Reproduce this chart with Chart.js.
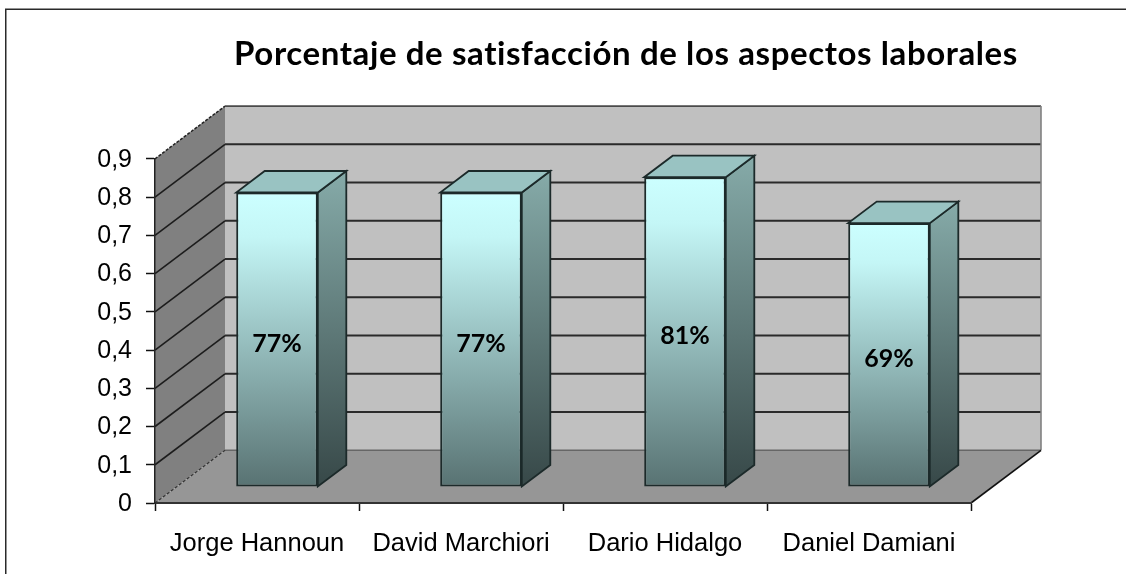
<!DOCTYPE html>
<html>
<head>
<meta charset="utf-8">
<style>html,body{margin:0;padding:0;background:#fff;overflow:hidden}canvas{display:block}</style>
<script src="https://cdn.jsdelivr.net/npm/chart.js@4/dist/chart.umd.js"></script>
</head>
<body>
<canvas id="c" width="1126" height="574"></canvas>
<script>
const titleText = "Porcentaje de satisfacción de los aspectos laborales";
const categories = ["Jorge Hannoun", "David Marchiori", "Dario Hidalgo", "Daniel Damiani"];
const satisfaction = [0.77, 0.77, 0.81, 0.69];
const yMax = 0.9;
const yStep = 0.1;

// oblique projection of the 3D box
const WALL = {dx: 70, dy: -52.7};
const BAR_SHIFT = {dx: 20, dy: -16};
const BAR_DEPTH = {dx: 28.5, dy: -21.5};

function poly(ctx, pts, fill, stroke, lw, dash) {
  ctx.beginPath();
  pts.forEach((p, i) => i ? ctx.lineTo(p[0], p[1]) : ctx.moveTo(p[0], p[1]));
  ctx.closePath();
  if (fill) { ctx.fillStyle = fill; ctx.fill(); }
  if (stroke) {
    ctx.strokeStyle = stroke; ctx.lineWidth = lw || 1;
    ctx.setLineDash(dash || []); ctx.stroke(); ctx.setLineDash([]);
  }
}
function line(ctx, x1, y1, x2, y2, color, lw, dash) {
  ctx.beginPath(); ctx.moveTo(x1, y1); ctx.lineTo(x2, y2);
  ctx.strokeStyle = color; ctx.lineWidth = lw; ctx.setLineDash(dash || []); ctx.stroke(); ctx.setLineDash([]);
}

const box3d = {
  id: 'box3d',
  afterLayout(chart) {
    const t = chart.titleBlock;
    t.left = 176; t.right = 1076;
    if (!t._spaced) {
      const orig = t.draw;
      t.draw = function () {
        this.ctx.letterSpacing = '0.6px';
        orig.apply(this, arguments);
        this.ctx.letterSpacing = '0px';
      };
      t._spaced = true;
    }
  },
  beforeDraw(chart) {
    const ctx = chart.ctx, a = chart.chartArea, y = chart.scales.y;
    ctx.save();
    ctx.fillStyle = '#fff'; ctx.fillRect(0, 0, chart.width, chart.height);
    ctx.strokeStyle = '#2a2a2a'; ctx.lineWidth = 1.5;
    ctx.strokeRect(5.75, 9.25, chart.width + 20, chart.height + 20);
    const L = a.left, R = a.right, T = y.getPixelForValue(yMax), B = y.getPixelForValue(0);
    const d = WALL;
    // back wall
    poly(ctx, [[L+d.dx,T+d.dy],[R+d.dx,T+d.dy],[R+d.dx,B+d.dy],[L+d.dx,B+d.dy]], '#C0C0C0');
    // side wall
    poly(ctx, [[L,T],[L+d.dx,T+d.dy],[L+d.dx,B+d.dy],[L,B]], '#808080');
    // floor
    poly(ctx, [[L,B],[R,B],[R+d.dx,B+d.dy],[L+d.dx,B+d.dy]], '#969696');
    // grid lines on walls
    y.ticks.forEach(tk => {
      const p = y.getPixelForValue(tk.value);
      if (tk.value > 0 && tk.value < yMax - 1e-9) {
        line(ctx, L, p, L+d.dx, p+d.dy, '#1c1c1c', 1.6);
        line(ctx, L+d.dx, p+d.dy, R+d.dx, p+d.dy, '#2a2a2a', 2);
      }
    });
    line(ctx, L, T, L+d.dx, T+d.dy, '#222', 1.5, [3, 1.5]);
    line(ctx, L+d.dx, T+d.dy, R+d.dx, T+d.dy, '#4a4a4a', 1.6);
    line(ctx, R+d.dx, T+d.dy, R+d.dx, B+d.dy, '#808080', 1.6);
    line(ctx, L+d.dx, B+d.dy, R+d.dx, B+d.dy, '#666', 1.6);
    line(ctx, L, B, L+d.dx, B+d.dy, '#333', 1.2, [3, 2]);
    line(ctx, R, B, R+d.dx, B+d.dy, '#111', 1.6);
    ctx.restore();
  },
  beforeDatasetDraw(chart, args) {
    const ctx = chart.ctx, meta = args.meta;
    const s = BAR_SHIFT, e = BAR_DEPTH;
    ctx.save();
    meta.data.forEach(bar => {
      const hw = bar.width / 2;
      const l = bar.x - hw + s.dx, r = bar.x + hw + s.dx;
      const t = bar.y + s.dy, b = bar.base + s.dy;
      const g = ctx.createLinearGradient(0, t + e.dy, 0, b);
      g.addColorStop(0, '#86ABA9');
      g.addColorStop(1, '#374848');
      poly(ctx, [[r,t],[r+e.dx,t+e.dy],[r+e.dx,b+e.dy],[r,b]], g, '#1c2a2a', 1.8);
      poly(ctx, [[l,t],[r,t],[r+e.dx,t+e.dy],[l+e.dx,t+e.dy]], '#99C3C2', '#1c2a2a', 1.8);
    });
    ctx.restore();
    ctx.save();
    ctx.translate(s.dx, s.dy);
  },
  afterDatasetDraw(chart, args) {
    const ctx = chart.ctx;
    ctx.restore();
    ctx.save();
    ctx.fillStyle = '#000';
    ctx.font = 'bold 25px Lato';
    ctx.textAlign = 'center';
    ctx.textBaseline = 'middle';
    args.meta.data.forEach((bar, i) => {
      const label = Math.round(satisfaction[i] * 100) + '%';
      ctx.fillText(label, bar.x + BAR_SHIFT.dx, (bar.y + bar.base) / 2 + BAR_SHIFT.dy + 4);
    });
    ctx.restore();
  }
};

new Chart(document.getElementById('c'), {
  type: 'bar',
  data: {
    labels: categories,
    datasets: [{
      data: satisfaction,
      barPercentage: 0.4,
      categoryPercentage: 1,
      borderWidth: 2,
      borderColor: '#1c2a2a',
      borderSkipped: false,
      inflateAmount: 0,
      clip: false,
      backgroundColor(c) {
        const sc = c.chart.scales.y;
        if (!sc || c.raw === undefined) return '#8fb3b3';
        const top = sc.getPixelForValue(c.raw), bottom = sc.getPixelForValue(0);
        if (!Number.isFinite(top) || !Number.isFinite(bottom)) return '#8fb3b3';
        const g = c.chart.ctx.createLinearGradient(0, top, 0, bottom);
        g.addColorStop(0, '#CCFFFF');
        g.addColorStop(0.15, '#C4F6F6');
        g.addColorStop(1, '#587272');
        return g;
      }
    }]
  },
  plugins: [box3d],
  options: {
    responsive: false,
    animation: false,
    layout: {padding: {left: 0, right: 155, top: 0, bottom: 0}},
    plugins: {
      legend: {display: false},
      tooltip: {enabled: false},
      title: {
        display: true,
        text: titleText,
        color: '#000',
        font: {family: 'Lato', size: 33, weight: 'bold', lineHeight: 1.2},
        padding: {top: 34.2, bottom: 85}
      }
    },
    scales: {
      x: {
        afterFit(s) { s.height = 71; },
        grid: {offset: true, drawOnChartArea: false, drawTicks: true, tickLength: 8, tickColor: '#111', tickWidth: 1.5},
        border: {display: true, color: '#333', width: 2},
        ticks: {color: '#000', font: {family: 'Liberation Sans', size: 25.5}, padding: 18, maxRotation: 0, autoSkip: false}
      },
      y: {
        min: 0, max: yMax,
        afterFit(s) { s.width = 155; },
        grid: {drawOnChartArea: false, drawTicks: true, tickLength: 9, tickColor: '#111', tickWidth: 1.5},
        border: {display: true, color: '#222', width: 1.5},
        ticks: {
          stepSize: yStep,
          color: '#000',
          font: {family: 'Liberation Sans', size: 25},
          padding: 14,
          labelOffset: 1,
          callback: v => String(Math.round(v * 10) / 10).replace('.', ',')
        }
      }
    }
  }
});
</script>
</body>
</html>
